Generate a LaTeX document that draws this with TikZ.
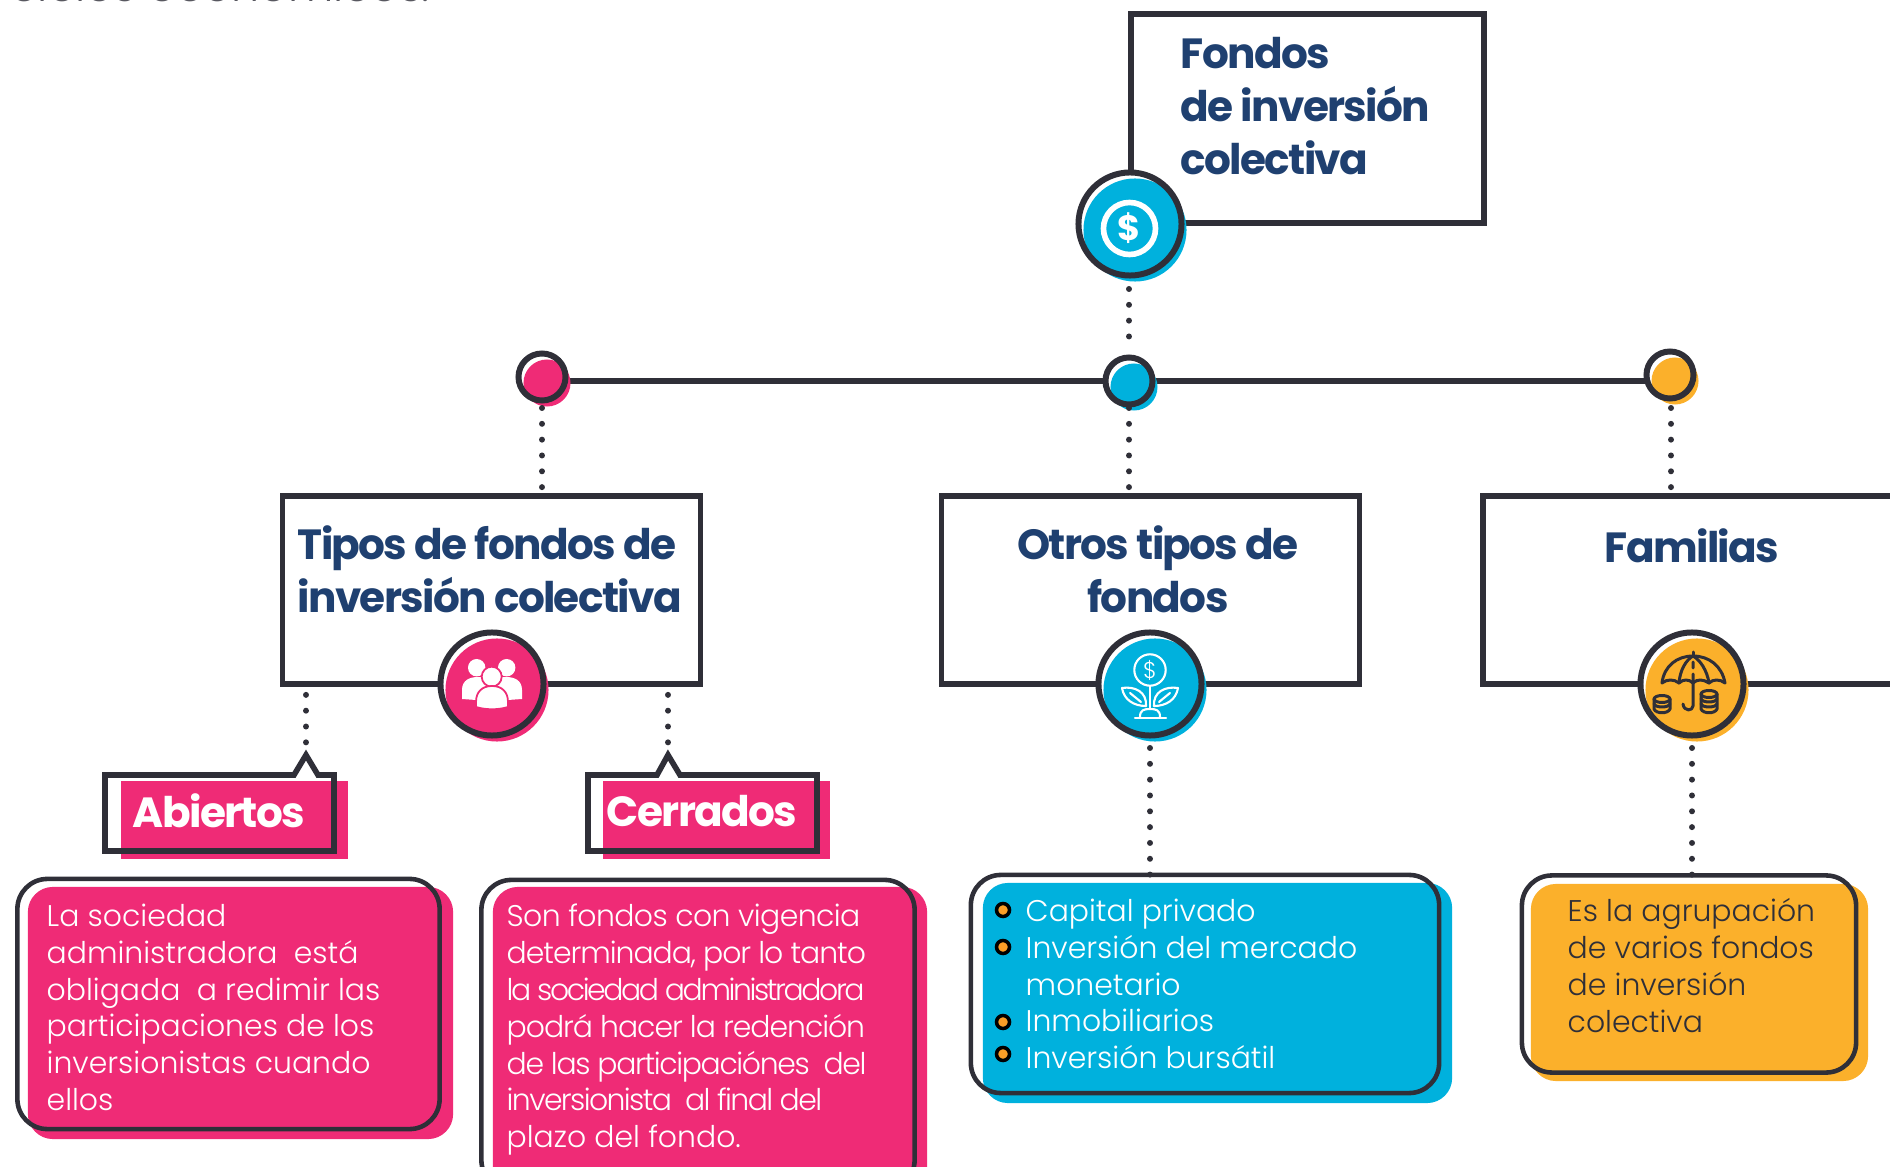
\documentclass[tikz,border=0pt]{standalone}
\usepackage{fontspec}
\setmainfont{Poppins}
\newfontfamily\fuenteligera{Poppins Light}
\newfontfamily\fuentetitulo[LetterSpace=-4]{Poppins}[BoldFont=* Bold]
\usepackage{tikz}
\definecolor{rosa}{HTML}{EF2B76}
\definecolor{azul}{HTML}{00B1DD}
\definecolor{naranja}{HTML}{FBB02B}
\definecolor{oscuro}{HTML}{2F2F38}
\definecolor{marino}{HTML}{1F4070}
\tikzset{
  linea/.style={draw=oscuro,line width=1.6pt},
  puntos/.style={draw=oscuro,line width=1.7pt,line cap=round,dash pattern=on 0pt off 4.5pt},
  caja/.style={rectangle,draw=oscuro,line width=1.6pt,fill=white,inner sep=0pt},
  fondo/.style={rectangle,rounded corners=.25cm,inner sep=0pt},
  marco/.style={rectangle,rounded corners=.3cm,draw=oscuro,line width=1.3pt,inner sep=0pt},
  titulo/.style={font=\fontsize{12}{15}\selectfont\fuentetitulo\bfseries,text=marino,inner sep=0pt},
  etiqueta/.style={font=\fontsize{12}{15}\selectfont\fuentetitulo\bfseries,text=white,inner sep=0pt},
  cuerpo/.style={font=\fontsize{8.5}{10.5}\selectfont\fuenteligera,text=white,align=left,anchor=north west,inner sep=0pt},
  vineta/.style={circle,draw=black,line width=1pt,fill=naranja!90!red,minimum size=.13cm,inner sep=0pt},
  icono/.style={draw=white,line width=.6pt,line cap=round,line join=round},
  paraguas/.style={draw=oscuro,line width=.85pt,line cap=round,line join=round},
}
% circulo con sombra de color: nombre, centro, color, diametro
\newcommand{\circulo}[4]{
  \node[circle,fill=white,minimum size=#4,inner sep=0pt] (#1base) at (#2) {};
  \node[circle,fill=#3,minimum size=#4,inner sep=0pt] (#1color) at ([shift={(5,6)}]#2) {};
  \node[circle,draw=oscuro,line width=1.7pt,minimum size=#4,inner sep=0pt] (#1) at (#2) {};
}
\begin{document}
\begin{tikzpicture}[x=.01cm,y=-.01cm]
  \useasboundingbox (0,0) rectangle (1890,1167);
  \node[anchor=base west,inner sep=0pt,text=oscuro!80,font=\fontsize{12.6}{16}\selectfont\fuenteligera] (resto) at (10,2) {ciclos económicos.};

  % cajas de titulo
  \node[caja,minimum width=3.53cm,minimum height=2.09cm] (fondos) at (1307.5,118.5) {};
  \node[caja,minimum width=4.18cm,minimum height=1.88cm] (tipos) at (491.5,590) {};
  \node[caja,minimum width=4.18cm,minimum height=1.88cm] (otros) at (1150.5,590) {};
  \node[caja,minimum width=5cm,minimum height=1.88cm] (familias) at (1733,590) {};

  \coordinate (pabiertos) at (306,755);
  \coordinate (pcerrados) at (668,755);
  \coordinate (ptipos) at (542,377);
  \coordinate (pcentro) at (1129,381);
  \coordinate (pfamilias) at (1671,375);

  \draw[linea] (ptipos |- pcentro) -- (pfamilias |- pcentro);
  \draw[puntos] (pabiertos |- tipos.south) ++(0,8) -- (pabiertos);
  \draw[puntos] (pcerrados |- tipos.south) ++(0,8) -- (pcerrados);

  \circulo{cfondos}{1130,224}{azul}{1.03cm}
  \circulo{ctipos}{542,377}{rosa}{.47cm}
  \circulo{ccentro}{1129,381}{azul}{.47cm}
  \circulo{cfamilias}{1670,375}{naranja}{.47cm}
  \circulo{ctitipos}{492,684}{rosa}{1.03cm}
  \circulo{ciotros}{1150,684}{azul}{1.03cm}
  \circulo{cifamilias}{1692,684}{naranja}{1.03cm}

  % puntos
  \draw[puntos] (pcentro |- 0,289) -- (pcentro |- 0,349);
  \draw[puntos] (ptipos) ++(0,31) -- (ptipos |- tipos.north);
  \draw[puntos] (pcentro) ++(0,27) -- (pcentro |- otros.north);
  \draw[puntos] (pfamilias) ++(0,33) -- (pfamilias |- otros.north);
  \draw[puntos] (1150,748) -- (1150,875);
  \draw[puntos] (1692,748) -- (1692,875);

  \node[titulo,align=left,anchor=north west] (tfondos) at (1180,37) {Fondos\\de inversión\\colectiva};
  \node[titulo,align=left,anchor=north west] (ttipos) at (297,525) {Tipos de fondos de\\inversión colectiva};
  \node[titulo,align=center,anchor=north] (totros) at (1158,525) {Otros tipos de\\fondos};
  \node[titulo,anchor=north] (tfamilias) at (1692,528) {Familias};

  % etiquetas
  \node[fill=rosa,minimum width=2.27cm,minimum height=.78cm,inner sep=0pt] (fabiertos) at (234.5,820) {};
  \node[fill=rosa,minimum width=2.27cm,minimum height=.78cm,inner sep=0pt] (fcerrados) at (716.5,820) {};
  \draw[linea] (105,775) -- (294,775) -- (pabiertos) -- (318,775) -- (334,775) -- (334,851) -- (105,851) -- cycle;
  \draw[linea] (588,775) -- (657,775) -- (pcerrados) -- (680,775) -- (817,775) -- (817,851) -- (588,851) -- cycle;
  \node[etiqueta] (abiertos) at (219,811) {Abiertos};
  \node[etiqueta] (cerrados) at (702,811) {Cerrados};

  % cuadros de texto
  \node[fondo,fill=rosa,minimum width=4.25cm,minimum height=2.52cm] (frosa1) at (240.5,1013) {};
  \node[marco,minimum width=4.22cm,minimum height=2.5cm] (rosa1) at (228.5,1004) {};
  \node[fondo,fill=rosa,minimum width=4.34cm,minimum height=3.1cm] (frosa2) at (710,1042) {};
  \node[marco,minimum width=4.33cm,minimum height=3.1cm] (rosa2) at (698,1035) {};
  \node[fondo,fill=azul,minimum width=4.69cm,minimum height=2.2cm] (fazul) at (1217.5,993) {};
  \node[marco,minimum width=4.68cm,minimum height=2.18cm] (mazul) at (1205,984) {};
  \node[fondo,fill=naranja,minimum width=3.37cm,minimum height=1.97cm] (fnaranja) at (1699.5,982.5) {};
  \node[marco,minimum width=3.34cm,minimum height=1.97cm] (mnaranja) at (1689,974) {};

  \node[cuerpo] (trosa1) at (46,903) {La sociedad\\administradora\ \ está\\obligada\ \ a redimir las\\participaciones de los\\inversionistas cuando\\ellos};
  \node[cuerpo] (trosa2) at (506,903) {\addfontfeature{LetterSpace=-2}Son fondos con vigencia\\{\addfontfeature{LetterSpace=-3.5}determinada, por lo tanto}\\{\addfontfeature{LetterSpace=-8}la sociedad administradora}\\{\addfontfeature{LetterSpace=-3.5}podrá hacer la redención}\\{\addfontfeature{LetterSpace=-4.5}de las participaciónes\ \ del}\\{\addfontfeature{LetterSpace=-5.4}inversionista\ \ al final del}\\plazo del fondo.};
  \node[cuerpo] (tazul) at (1025,898) {Capital privado\\Inversión del mercado\\monetario\\Inmobiliarios\\Inversión bursátil};
  \node[cuerpo,text=oscuro] (tnaranja) at (1567,898) {Es la agrupación\\de varios fondos\\de inversión\\colectiva};
  \node[vineta] (v1) at (1003,910) {};
  \node[vineta] (v2) at (1003,947) {};
  \node[vineta] (v3) at (1003,1022) {};
  \node[vineta] (v4) at (1003,1054) {};

  % icono moneda
  \node[circle,draw=white,line width=1.6pt,fill=none,minimum size=.52cm,inner sep=0pt] (moneda) at (1129.5,228.5) {};
  \node[text=white,font=\fontsize{10}{10}\selectfont\bfseries,inner sep=0pt] (dolar) at (moneda) {\$};

  % icono personas
  \fill[white] (462,699) -- (462,690) .. controls (462,680) and (470,677) .. (478,677) .. controls (486,677) and (490,680) .. (492,684) -- (492,700) -- (476,700) -- cycle;
  \fill[white] (522,699) -- (522,690) .. controls (522,680) and (514,677) .. (506,677) .. controls (498,677) and (494,680) .. (492,684) -- (492,700) -- (508,700) -- cycle;
  \fill[white] (476.7,667.7) circle[radius=8.7];
  \fill[white] (506.7,667.7) circle[radius=8.7];
  \filldraw[white,draw=rosa,line width=.5pt] (491.7,676.7) circle[radius=10];
  \filldraw[white,draw=rosa,line width=.5pt] (476,707) -- (476,702) .. controls (476,692) and (482,686) .. (492,686) .. controls (502,686) and (508,692) .. (508,702) -- (508,707) .. controls (498,710) and (486,710) .. (476,707) -- cycle;

  % icono planta
  \draw[icono] (1150,670) circle[radius=15.7];
  \node[text=white,font=\fontsize{6.5}{7}\selectfont\fuenteligera,inner sep=0pt] (dolarplanta) at (1150,670) {\$};
  \draw[icono] (1150,686) -- (1150,709);
  \draw[icono] (1122,688) .. controls (1135,686) and (1147,692) .. (1146,706) .. controls (1134,706) and (1124,700) .. (1122,688) -- cycle;
  \draw[icono] (1178,688) .. controls (1165,686) and (1153,692) .. (1154,706) .. controls (1166,706) and (1176,700) .. (1178,688) -- cycle;
  \draw[icono] (1130,693) -- (1141,702) (1170,693) -- (1159,702);
  \draw[icono] (1140,717) .. controls (1140,710) and (1144,709) .. (1150,709) .. controls (1156,709) and (1160,710) .. (1160,717);
  \draw[icono] (1135,717.7) -- (1166,717.7);

  % icono paraguas
  \draw[paraguas] (1693,652) -- (1693,656);
  \draw[paraguas] (1662,683) .. controls (1664,666) and (1677,656) .. (1693,656) .. controls (1709,656) and (1722,666) .. (1725,683);
  \draw[paraguas] (1662,683) .. controls (1667,679) and (1674,679) .. (1679,683) .. controls (1683,679) and (1689,679) .. (1693,683) .. controls (1697,679) and (1703,679) .. (1709,683) .. controls (1713,679) and (1720,679) .. (1725,683);
  \draw[paraguas] (1679,683) .. controls (1680,670) and (1686,660) .. (1693,656) .. controls (1700,660) and (1707,670) .. (1709,683);
  \draw[paraguas] (1693,662) -- (1693,668) (1693,674) -- (1693,706) .. controls (1693,711) and (1684,712) .. (1683,704);
  \draw[paraguas] (1662,699) ellipse[x radius=8,y radius=3.5];
  \draw[paraguas] (1654,699) -- (1654,709) .. controls (1656,714) and (1668,714) .. (1670,709) -- (1670,699);
  \draw[paraguas] (1654,704) .. controls (1656,708) and (1668,708) .. (1670,704);
  \draw[paraguas] (1709,694) ellipse[x radius=8,y radius=3.5];
  \draw[paraguas] (1701,694) -- (1701,709) .. controls (1703,714) and (1715,714) .. (1717,709) -- (1717,694);
  \draw[paraguas] (1701,699) .. controls (1703,703) and (1715,703) .. (1717,699);
  \draw[paraguas] (1701,704) .. controls (1703,708) and (1715,708) .. (1717,704);
\end{tikzpicture}
\end{document}
